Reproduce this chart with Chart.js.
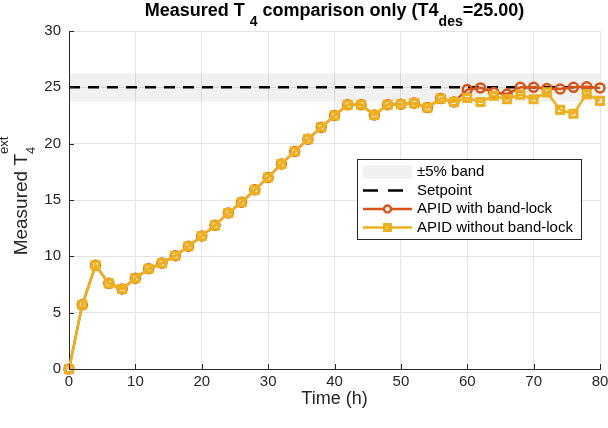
<!DOCTYPE html>
<html>
<head>
<meta charset="utf-8">
<script src="https://cdn.jsdelivr.net/npm/chart.js@4.4.1/dist/chart.umd.min.js"></script>
<style>
  html, body { margin: 0; padding: 0; background: #fff; }
</style>
</head>
<body>
<canvas id="grafica" width="608" height="428"></canvas>
<script>
// datos
const horas = [0, 2, 4, 6, 8, 10, 12, 14, 16, 18, 20, 22, 24, 26, 28, 30, 32, 34, 36, 38,
  40, 42, 44, 46, 48, 50, 52, 54, 56, 58, 60, 62, 64, 66, 68, 70, 72, 74, 76, 78, 80];

const conBloqueo = [0, 5.7, 9.2, 7.6, 7.1, 8.05, 8.9, 9.4, 10.05, 10.9, 11.8, 12.75, 13.85, 14.8,
  15.9, 17.0, 18.2, 19.3, 20.4, 21.45, 22.5, 23.45, 23.45, 22.55, 23.45, 23.5, 23.6, 23.2, 24.0, 23.7,
  24.8, 24.95, 24.55, 24.4, 25.0, 25.0, 24.9, 24.85, 25.0, 25.05, 24.95];

const sinBloqueo = [0, 5.7, 9.2, 7.6, 7.1, 8.05, 8.9, 9.4, 10.05, 10.9, 11.8, 12.75, 13.85, 14.8,
  15.9, 17.0, 18.2, 19.3, 20.4, 21.45, 22.5, 23.45, 23.45, 22.55, 23.45, 23.5, 23.6, 23.2, 24.0, 23.7,
  24.05, 23.7, 24.25, 23.95, 24.35, 23.95, 24.55, 23.0, 22.65, 24.4, 23.8];

const setpoint = 25;
const banda = [23.75, 26.25];
const rangoX = [0, 80];
const ticksX = [0, 10, 20, 30, 40, 50, 60, 70, 80];
const ticksY = [0, 5, 10, 15, 20, 25, 30];

const FUENTE = "'Liberation Sans', Arial, Helvetica, sans-serif";
const ROJO = "#D95319";
const AMARILLO = "#EDB120";
const GRIS_EJE = "#262626";
const BANDA_COLOR = "rgba(120,120,120,0.1)";

const aPuntos = (ys) => horas.map((h, i) => ({ x: h, y: ys[i] }));
const lineaPlana = (y) => rangoX.map((x) => ({ x: x, y: y }));

// dibuja texto por partes (para subindices / superindices)
function anchoPartes(ctx, partes) {
  let w = 0;
  for (const p of partes) {
    ctx.font = (p.bold ? "bold " : "") + p.size + "px " + FUENTE;
    if (!p.noAdvance) w += ctx.measureText(p.t).width;
  }
  return w;
}

function dibujarPartes(ctx, partes, x, y) {
  ctx.textBaseline = "alphabetic";
  ctx.textAlign = "left";
  for (const p of partes) {
    ctx.font = (p.bold ? "bold " : "") + p.size + "px " + FUENTE;
    ctx.fillText(p.t, x, y + (p.dy || 0));
    if (!p.noAdvance) x += ctx.measureText(p.t).width;
  }
}

const pluginTextos = {
  id: "textos",
  afterDraw(chart) {
    const ctx = chart.ctx;
    const area = chart.chartArea;
    ctx.save();

    // titulo
    const titulo = [
      { t: "Measured T ", size: 18, bold: true },
      { t: "4", size: 14, bold: true, dy: 10.5 },
      { t: " comparison only (T4", size: 18, bold: true },
      { t: "des", size: 14, bold: true, dy: 10.5 },
      { t: "=25.00)", size: 18, bold: true }
    ];
    ctx.fillStyle = "#000";
    const wt = anchoPartes(ctx, titulo);
    dibujarPartes(ctx, titulo, (area.left + area.right) / 2 - wt / 2, 15.5);

    // titulo eje y
    const ylab = [
      { t: "Measured T", size: 19 },
      { t: "4", size: 13, dy: 8, noAdvance: true },
      { t: "ext", size: 13, dy: -19 }
    ];
    ctx.fillStyle = GRIS_EJE;
    ctx.translate(27, 196);
    ctx.rotate(-Math.PI / 2);
    const wy = anchoPartes(ctx, ylab);
    dibujarPartes(ctx, ylab, -wy / 2, 0);
    ctx.restore();
  }
};

// marcas de los ejes hacia adentro, como en matlab
const pluginMarcas = {
  id: "marcas",
  afterDatasetsDraw(chart) {
    const ctx = chart.ctx;
    const a = chart.chartArea;
    const sx = chart.scales.x, sy = chart.scales.y;
    ctx.save();
    ctx.strokeStyle = GRIS_EJE;
    ctx.lineWidth = 1;
    ctx.beginPath();
    for (const v of ticksX) {
      const px = Math.round(sx.getPixelForValue(v)) + 0.5;
      ctx.moveTo(px, a.bottom);
      ctx.lineTo(px, a.bottom - 5);
    }
    for (const v of ticksY) {
      const py = Math.round(sy.getPixelForValue(v)) + 0.5;
      ctx.moveTo(a.left, py);
      ctx.lineTo(a.left + 5, py);
    }
    ctx.stroke();
    ctx.restore();
  }
};

// leyenda dentro del area
const pluginLeyenda = {
  id: "leyenda",
  afterDraw(chart) {
    const ctx = chart.ctx;
    const caja = { x: 357.5, y: 159.5, w: 224, h: 80 };
    ctx.save();
    ctx.fillStyle = "#fff";
    ctx.fillRect(caja.x, caja.y, caja.w, caja.h);
    ctx.strokeStyle = GRIS_EJE;
    ctx.lineWidth = 1;
    ctx.strokeRect(caja.x, caja.y, caja.w, caja.h);

    const x0 = 363, x1 = 412, xt = 417;
    const filas = [172, 190.5, 209, 227.5];
    const textos = ["\u00b15% band", "Setpoint", "APID with band-lock", "APID without band-lock"];

    // banda
    ctx.fillStyle = "#f0f0f0";
    ctx.fillRect(x0, filas[0] - 6.5, x1 - x0, 13);
    // setpoint
    ctx.strokeStyle = "#000";
    ctx.lineWidth = 2.5;
    ctx.setLineDash([15, 10]);
    ctx.beginPath();
    ctx.moveTo(x0, filas[1]);
    ctx.lineTo(x1 - 6, filas[1]);
    ctx.stroke();
    ctx.setLineDash([]);
    // series
    const xm = (x0 + x1) / 2;
    ctx.strokeStyle = ROJO;
    ctx.beginPath();
    ctx.moveTo(x0, filas[2]);
    ctx.lineTo(x1, filas[2]);
    ctx.stroke();
    ctx.lineWidth = 2.5;
    ctx.fillStyle = "#fff";
    ctx.beginPath();
    ctx.arc(xm, filas[2], 3.5, 0, Math.PI * 2);
    ctx.fill();
    ctx.stroke();

    ctx.strokeStyle = AMARILLO;
    ctx.lineWidth = 2.5;
    ctx.beginPath();
    ctx.moveTo(x0, filas[3]);
    ctx.lineTo(x1, filas[3]);
    ctx.stroke();
    ctx.lineWidth = 3;
    ctx.strokeRect(xm - 3, filas[3] - 3, 6, 6);

    ctx.fillStyle = "#000";
    ctx.font = "15px " + FUENTE;
    ctx.textBaseline = "middle";
    textos.forEach((t, i) => ctx.fillText(t, xt, filas[i]));
    ctx.restore();
  }
};

const datos = {
  datasets: [
    {
      label: "bandLow",
      data: lineaPlana(banda[0]),
      borderWidth: 0,
      pointRadius: 0,
      fill: false,
      order: 5
    },
    {
      label: "\u00b15% band",
      data: lineaPlana(banda[1]),
      borderWidth: 0,
      pointRadius: 0,
      backgroundColor: BANDA_COLOR,
      fill: "-1",
      order: 4
    },
    {
      label: "Setpoint",
      data: lineaPlana(setpoint),
      borderColor: "#000",
      borderWidth: 2.5,
      borderDash: [11, 8],
      pointRadius: 0,
      order: 3
    },
    {
      label: "APID with band-lock",
      data: aPuntos(conBloqueo),
      borderColor: ROJO,
      borderWidth: 2.5,
      pointStyle: "circle",
      pointRadius: 4.5,
      pointBorderWidth: 2.5,
      pointBackgroundColor: "rgba(0,0,0,0)",
      pointBorderColor: ROJO,
      clip: false,
      order: 2
    },
    {
      label: "APID without band-lock",
      data: aPuntos(sinBloqueo),
      borderColor: AMARILLO,
      borderWidth: 2.5,
      pointStyle: "rect",
      pointRadius: 5,
      pointBorderWidth: 3,
      pointBackgroundColor: "rgba(0,0,0,0)",
      pointBorderColor: AMARILLO,
      clip: false,
      order: 1
    }
  ]
};

new Chart(document.getElementById("grafica"), {
  type: "line",
  data: datos,
  options: {
    responsive: false,
    animation: false,
    layout: { padding: { left: 0, top: 31, right: 5, bottom: 0 } },
    elements: { line: { tension: 0 } },
    plugins: {
      legend: { display: false },
      tooltip: { enabled: false },
      title: { display: false }
    },
    scales: {
      x: {
        type: "linear",
        min: rangoX[0],
        max: rangoX[1],
        afterBuildTicks: (s) => { s.ticks = ticksX.map((v) => ({ value: v })); },
        afterFit: (s) => { s.height = 59; s.paddingLeft = 0; s.paddingRight = 0; },
        ticks: { color: GRIS_EJE, font: { family: FUENTE, size: 15 }, padding: 4, maxRotation: 0 },
        grid: { color: "#e4e4e4", drawTicks: false },
        border: { color: GRIS_EJE, width: 1 },
        title: {
          display: true,
          text: "Time (h)",
          color: GRIS_EJE,
          font: { family: FUENTE, size: 18 },
          padding: { top: 0, bottom: 18 }
        }
      },
      y: {
        min: 0,
        max: 30,
        afterBuildTicks: (s) => { s.ticks = ticksY.map((v) => ({ value: v })); },
        afterFit: (s) => { s.width = 69; s.paddingTop = 0; s.paddingBottom = 0; },
        ticks: { color: GRIS_EJE, font: { family: FUENTE, size: 15 }, padding: 8 },
        grid: { color: "#e4e4e4", drawTicks: false },
        border: { color: GRIS_EJE, width: 1 }
      }
    }
  },
  plugins: [pluginTextos, pluginMarcas, pluginLeyenda]
});
</script>
</body>
</html>
